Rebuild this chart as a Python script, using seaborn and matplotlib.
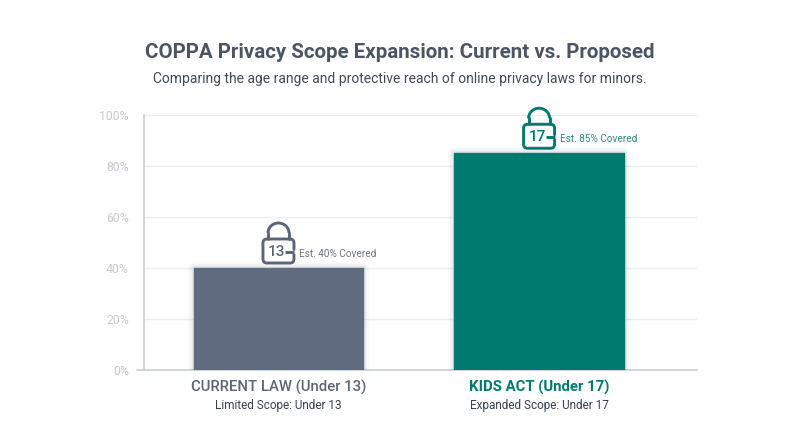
import matplotlib
matplotlib.use('Agg')
import matplotlib.pyplot as plt
import matplotlib.patheffects as pe
from matplotlib.patches import Arc, PathPatch
from matplotlib.path import Path
from matplotlib.lines import Line2D
from matplotlib.transforms import IdentityTransform
import pandas as pd
import seaborn as sns

categories = ['CURRENT LAW (Under 13)', 'KIDS ACT (Under 17)']
coverage = [40, 85]
scope_labels = ['Limited Scope: Under 13', 'Expanded Scope: Under 17']
lock_ages = ['13', '17']
cover_labels = ['Est. 40% Covered', 'Est. 85% Covered']
bar_colors = ['#5f6b7e', '#00796f']
label_colors = ['#5b6576', '#00796f']
note_colors = ['#6b7482', '#2b8a82']
y_ticks = [0, 20, 40, 60, 80, 100]

W, H = 800, 447

sns.set_theme(style='white')
plt.rcParams['font.family'] = ['Roboto', 'DejaVu Sans']

df = pd.DataFrame({'category': categories, 'coverage': coverage})

fig = plt.figure(figsize=(W / 100, H / 100), dpi=100, facecolor='white')
ax = fig.add_axes([144 / W, (H - 370) / H, (697 - 144) / W, 255 / H])

sns.barplot(data=df, x='category', y='coverage', hue='category', palette=bar_colors,
            legend=False, width=0.65, saturation=1, ax=ax, zorder=3)
ax.set_xlim(-0.516, 1.606)
ax.set_ylim(0, 100)
ax.set_xlabel('')
ax.set_ylabel('')

# rounded corners and a soft shadow around the bars
for bar, color in zip(ax.patches, bar_colors):
    bar.set_edgecolor(color)
    bar.set_linewidth(1)
    bar.set_joinstyle('round')
    bar.set_path_effects([
        pe.Stroke(linewidth=9, foreground='#5f6b7e', alpha=0.03),
        pe.Stroke(linewidth=6, foreground='#5f6b7e', alpha=0.05),
        pe.Stroke(linewidth=3.5, foreground='#5f6b7e', alpha=0.08),
        pe.Normal(),
    ])

ax.set_yticks(y_ticks)
ax.set_yticklabels([f'{v}%' for v in y_ticks], fontsize=8.8, color='#c6c9ce')
ax.tick_params(axis='y', length=7, width=1, color='#c9cdd3', pad=3.8, left=False)
ax.tick_params(axis='x', length=0, labelbottom=False)
ax.yaxis.grid(True, color='#eceef0', linewidth=1)
ax.set_axisbelow(True)
sns.despine(ax=ax, top=True, right=True)
for side in ['left', 'bottom']:
    ax.spines[side].set_color('#c9cdd3')
    ax.spines[side].set_linewidth(1.2)
# bottom tick only sticks out at 0%
fig.add_artist(Line2D([137 / W, 144 / W], [(H - 370) / H] * 2, color='#c9cdd3', lw=1.2))

fig.text(400, H - 53, 'COPPA Privacy Scope Expansion: Current vs. Proposed', transform=None,
         ha='center', va='center', fontsize=14.8, fontweight='bold', color='#4b5563')
fig.text(400, H - 79, 'Comparing the age range and protective reach of online privacy laws for minors.',
         transform=None, ha='center', va='center', fontsize=10, color='#414a58')


def draw_lock(cx, top, age, note, color, note_color):
    # cx, top: pixel position of the bar's top centre
    tr = IdentityTransform()
    x0, x1 = cx - 15.5, cx + 15.5
    y0, y1 = top + 5, top + 29
    lw = 2.1
    r = 4
    ym_low, ym_high = y0 + 8.5, y0 + 13.5
    # body, open on the right side where the dash sits
    verts = [(x1, ym_low), (x1, y0 + r), (x1, y0), (x1 - r, y0), (x0 + r, y0), (x0, y0), (x0, y0 + r),
             (x0, y1 - r), (x0, y1), (x0 + r, y1), (x1 - r, y1), (x1, y1), (x1, y1 - r), (x1, ym_high)]
    codes = [Path.MOVETO, Path.LINETO, Path.CURVE3, Path.CURVE3, Path.LINETO, Path.CURVE3, Path.CURVE3,
             Path.LINETO, Path.CURVE3, Path.CURVE3, Path.LINETO, Path.CURVE3, Path.CURVE3, Path.LINETO]
    fig.add_artist(PathPatch(Path(verts, codes), fill=False, edgecolor=color, lw=lw, transform=tr,
                             capstyle='round'))
    fig.add_artist(Line2D([x1 - 9, x1], [y0 + 11, y0 + 11], color=color, lw=lw, transform=tr,
                          solid_capstyle='butt'))
    # shackle
    sx0, sx1 = cx - 10.5, cx + 10.5
    sy = y1 + 6
    fig.add_artist(Arc((cx, sy), sx1 - sx0, 20, theta1=0, theta2=180, color=color, lw=lw, transform=tr))
    for sxx in (sx0, sx1):
        fig.add_artist(Line2D([sxx, sxx], [y1, sy], color=color, lw=lw, transform=tr))
    fig.text(cx - 2, y0 + 11.5, age, transform=None, ha='center', va='center', fontsize=11,
             fontweight='medium', color=color)
    fig.text(x1 + 5.5, y0 + 9, note, transform=None, ha='left', va='center', fontsize=7.2, color=note_color)


for i, bar in enumerate(ax.patches):
    cx, top = ax.transData.transform((bar.get_x() + bar.get_width() / 2, bar.get_height()))
    draw_lock(cx, top, lock_ages[i], cover_labels[i], label_colors[i], note_colors[i])
    fig.text(cx, H - 387, categories[i], transform=None, ha='center', va='center', fontsize=10.7,
             fontweight='bold' if i == 1 else 'medium', color=label_colors[i])
    fig.text(cx, H - 406, scope_labels[i], transform=None, ha='center', va='center', fontsize=8.5,
             color='#374151')

plt.savefig('out.png', dpi=100)
plt.close()
